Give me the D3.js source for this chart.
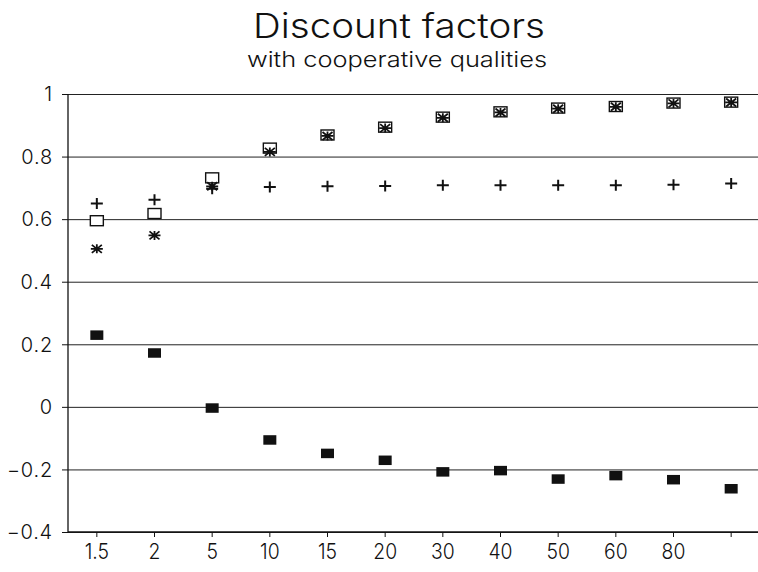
<!DOCTYPE html>
<html>
<head>
<meta charset="utf-8">
<script src="https://cdn.jsdelivr.net/npm/d3@7"></script>
<style>
  html, body { margin: 0; padding: 0; background: #fff; }
  svg { display: block; }
  .ttl { font-family: Inter, "DejaVu Sans", sans-serif; fill: #111; font-weight: 300; }
</style>
</head>
<body>
<svg id="chart" width="758" height="572"></svg>
<script>
// ---- data ----
const categories = ["1.5", "2", "5", "10", "15", "20", "30", "40", "50", "60", "80", ""];
const plusSeries   = [0.650, 0.662, 0.697, 0.703, 0.705, 0.706, 0.708, 0.708, 0.708, 0.708, 0.710, 0.714];
const openSquare   = [0.595, 0.618, 0.732, 0.827, 0.869, 0.894, 0.926, 0.943, 0.955, 0.960, 0.971, 0.974];
const starSeries   = [0.505, 0.548, 0.705, 0.815, 0.866, 0.891, 0.924, 0.941, 0.953, 0.959, 0.970, 0.973];
const filledSquare = [0.230, 0.173, -0.003, -0.105, -0.148, -0.170, -0.207, -0.203, -0.230, -0.219, -0.232, -0.261];
const yTickValues = [-0.4, -0.2, 0, 0.2, 0.4, 0.6, 0.8, 1];
const yTickLabels = ["\u22120.4", "\u22120.2", "0", "0.2", "0.4", "0.6", "0.8", "1"];
const titleText = "Discount factors";
const subtitleText = "with cooperative qualities";

// ---- layout ----
const svg = d3.select("#chart");
const mLeft = 68, mRight = 760, mTop = 94, mBottom = 532;

const x = d3.scaleBand().domain(categories).range([mLeft, mRight]);
const y = d3.scaleLinear().domain([-0.4, 1]).range([mBottom, mTop]);
const cx = c => x(c) + x.bandwidth() / 2;

// title
svg.append("text").attr("class", "ttl")
  .attr("x", 399).attr("y", 37.5)
  .attr("text-anchor", "middle")
  .attr("font-size", 34)
  .attr("textLength", 292).attr("lengthAdjust", "spacingAndGlyphs")
  .text(titleText);
svg.append("text").attr("class", "ttl")
  .attr("x", 397).attr("y", 67)
  .attr("text-anchor", "middle")
  .attr("font-size", 22)
  .attr("textLength", 300).attr("lengthAdjust", "spacingAndGlyphs")
  .text(subtitleText);

// gridlines
const grid = svg.append("g").attr("transform", `translate(${mLeft},0)`)
  .call(d3.axisLeft(y).tickValues(yTickValues).tickSize(-(758 - mLeft)).tickFormat(""));
grid.select(".domain").remove();
grid.selectAll(".tick line").attr("stroke", "#222").attr("stroke-width", 1);

// y axis
const yAxis = svg.append("g").attr("transform", `translate(${mLeft},0)`)
  .call(d3.axisLeft(y).tickValues(yTickValues).tickSize(6).tickPadding(9)
    .tickFormat((d, i) => yTickLabels[i]));
yAxis.select(".domain").attr("stroke", "#111").attr("stroke-width", 1.3).attr("d", `M0,${mTop}V${mBottom}`);
yAxis.selectAll(".tick line").attr("stroke", "#111");
yAxis.selectAll(".tick text").attr("class", "ttl").attr("font-size", 20).attr("dy", "0.34em")
  .attr("letter-spacing", 0.8);

// x axis
const xAxis = svg.append("g").attr("transform", `translate(0,${mBottom})`)
  .call(d3.axisBottom(x).tickSize(5).tickPadding(6));
xAxis.select(".domain").attr("stroke", "#111").attr("stroke-width", 1.3).attr("d", `M${mLeft},0H758`);
xAxis.selectAll(".tick line").attr("stroke", "#111");
xAxis.selectAll(".tick text").attr("class", "ttl").attr("font-size", 22)
  .each(function () {
    const w = this.getComputedTextLength();
    if (w > 0) d3.select(this).attr("textLength", w * 0.88).attr("lengthAdjust", "spacingAndGlyphs");
  });

const marks = svg.append("g");

// open squares
marks.selectAll(".osq").data(openSquare).enter().append("rect")
  .attr("x", (d, i) => cx(categories[i]) - 6.5)
  .attr("y", d => y(d) - 5)
  .attr("width", 13).attr("height", 10)
  .attr("fill", "#fff").attr("stroke", "#111").attr("stroke-width", 1.4);

// stars
const star = marks.selectAll(".star").data(starSeries).enter().append("g")
  .attr("transform", (d, i) => `translate(${cx(categories[i])},${y(d)})`);
star.append("path")
  .attr("d", "M-6,0H6M0,-4.5V4.5M-5,-4L5,4M-5,4L5,-4")
  .attr("stroke", "#111").attr("stroke-width", 1.8).attr("fill", "none");

// plus
marks.selectAll(".plus").data(plusSeries).enter().append("path")
  .attr("transform", (d, i) => `translate(${cx(categories[i])},${y(d)})`)
  .attr("d", "M-6,0H6M0,-5.5V5.5")
  .attr("stroke", "#111").attr("stroke-width", 2).attr("fill", "none");

// filled squares
marks.selectAll(".fsq").data(filledSquare).enter().append("rect")
  .attr("x", (d, i) => cx(categories[i]) - 6.5)
  .attr("y", d => y(d) - 4.5)
  .attr("width", 13).attr("height", 9.5)
  .attr("fill", "#111");
</script>
</body>
</html>
